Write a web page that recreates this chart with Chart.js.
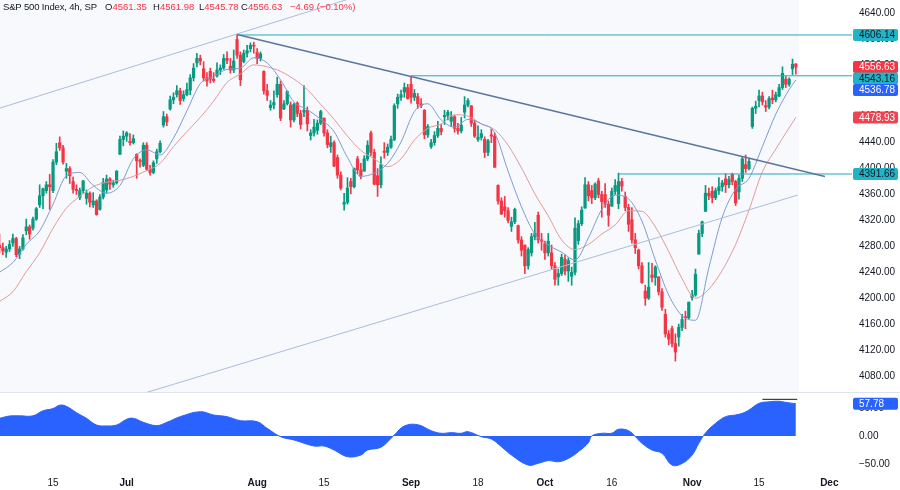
<!DOCTYPE html>
<html>
<head>
<meta charset="utf-8">
<script src="https://cdn.jsdelivr.net/npm/chart.js@4.4.0/dist/chart.umd.min.js"></script>
<style>
  html, body { margin: 0; padding: 0; background: #fff; }
  #wrap { position: relative; width: 900px; height: 490px; overflow: hidden; font-family: 'Liberation Sans', Arial, sans-serif; }
  #main { position: absolute; left: 0; top: 0; }
  #osc { position: absolute; left: 0; top: 392px; }
  #legend { position: absolute; left: 3px; top: 1px; font-size: 9.5px; color: #131722; line-height: 12px; }
  #legend span { position: absolute; top: 0; white-space: nowrap; }
  .v { color: #f23645; font-style: normal; }
</style>
</head>
<body>
<div id="wrap">
  <canvas id="main" width="900" height="392"></canvas>
  <canvas id="osc" width="900" height="98"></canvas>
  <div id="legend">
    <span style="left:0; letter-spacing:-0.15px">S&amp;P 500 Index, 4h, SP</span>
    <span style="left:102px">O<i class="v">4561.35</i></span>
    <span style="left:150px">H<i class="v">4561.98</i></span>
    <span style="left:196px">L<i class="v">4545.78</i></span>
    <span style="left:238px">C<i class="v">4556.63</i></span>
    <span style="left:287px" class="v">&minus;4.69 (&minus;0.10%)</span>
  </div>
</div>
<script>
// 4h bars, [open, high, low, close], two bars per session (Jul 3 is a half day)
const jun = [
  [4282,4299,4270,4278],[4278,4285,4267,4273],
  [4271,4280,4263,4276],[4276,4289,4272,4283],
  [4285,4299,4280,4292],[4292,4294,4264,4267],
  [4268,4280,4261,4276],[4276,4298,4274,4293],
  [4304,4322,4298,4310],[4310,4313,4291,4299],
  [4308,4325,4305,4322],[4322,4340,4320,4338],
  [4344,4375,4340,4358],[4358,4370,4338,4369],
  [4366,4380,4362,4375],[4375,4391,4337,4372],
  [4366,4414,4363,4410],[4410,4439,4406,4426],
  [4440,4449,4428,4432],[4432,4436,4407,4410],
  [4396,4408,4385,4400],[4400,4403,4377,4389],
  [4380,4387,4362,4368],[4368,4375,4360,4366],
  [4355,4370,4352,4366],[4366,4382,4362,4381],
  [4354,4367,4345,4362],[4362,4364,4341,4348],
  [4344,4363,4340,4350],[4350,4352,4328,4329],
  [4337,4360,4336,4356],[4356,4385,4353,4379],
  [4367,4390,4362,4384],[4384,4386,4368,4376],
  [4375,4382,4371,4378],[4378,4397,4376,4396],
  [4422,4450,4422,4445],[4445,4458,4435,4450]
];
const jul = [
  [4450,4457,4442,4455],
  [4442,4454,4436,4440],[4440,4452,4438,4446],
  [4422,4423,4385,4412],[4412,4415,4402,4411],
  [4405,4440,4403,4436],[4436,4440,4397,4399],
  [4399,4405,4390,4394],[4394,4412,4392,4409],
  [4415,4430,4408,4426],[4426,4443,4424,4439],
  [4467,4488,4464,4480],[4480,4484,4466,4472],
  [4492,4512,4490,4506],[4506,4517,4500,4510],
  [4514,4528,4510,4520],[4520,4524,4499,4505],
  [4508,4520,4504,4514],[4514,4532,4512,4522],
  [4521,4545,4514,4540],[4540,4562,4535,4555],
  [4563,4578,4557,4570],[4570,4575,4560,4566],
  [4554,4565,4535,4540],[4540,4548,4527,4535],
  [4550,4555,4532,4538],[4538,4548,4533,4536],
  [4543,4563,4541,4552],[4552,4560,4545,4555],
  [4555,4576,4553,4570],[4570,4580,4562,4567],
  [4558,4570,4547,4552],[4552,4583,4548,4566],
  [4599,4607,4570,4575],[4575,4580,4528,4537],
  [4565,4583,4563,4578],[4578,4590,4572,4582],
  [4585,4594,4580,4590],[4590,4595,4578,4589]
];
const aug = [
  [4579,4585,4562,4570],[4570,4580,4566,4577],
  [4550,4551,4515,4520],[4520,4530,4505,4513],
  [4494,4505,4490,4498],[4498,4520,4492,4502],
  [4514,4541,4510,4530],[4530,4535,4474,4478],
  [4492,4505,4491,4500],[4500,4520,4498,4519],
  [4498,4503,4464,4475],[4475,4501,4472,4499],
  [4501,4503,4480,4485],[4485,4490,4461,4468],
  [4487,4528,4480,4490],[4490,4495,4458,4469],
  [4451,4460,4444,4455],[4455,4476,4450,4464],
  [4459,4475,4453,4470],[4470,4490,4468,4488],
  [4478,4478,4450,4455],[4455,4460,4432,4437],
  [4434,4450,4425,4440],[4440,4443,4403,4404],
  [4417,4421,4385,4390],[4390,4395,4367,4370],
  [4345,4362,4336,4348],[4348,4386,4345,4370],
  [4380,4385,4361,4372],[4372,4401,4370,4400],
  [4415,4419,4392,4398],[4398,4408,4384,4388],
  [4396,4420,4396,4415],[4415,4443,4412,4436],
  [4455,4458,4420,4425],[4425,4430,4375,4376],
  [4389,4400,4357,4375],[4375,4418,4370,4406],
  [4427,4440,4416,4425],[4425,4438,4420,4433],
  [4433,4450,4431,4445],[4445,4500,4443,4497],
  [4500,4515,4493,4510],[4510,4521,4505,4514],
  [4518,4532,4510,4525],[4525,4530,4507,4508]
];
const sep = [
  [4530,4541,4501,4510],[4510,4522,4505,4516],
  [4511,4516,4493,4500],[4500,4508,4494,4497],
  [4490,4491,4446,4452],[4452,4468,4448,4465],
  [4434,4445,4431,4440],[4440,4457,4436,4451],
  [4451,4473,4448,4462],[4462,4468,4452,4457],
  [4480,4490,4468,4482],[4482,4490,4475,4487],
  [4473,4488,4465,4480],[4480,4482,4456,4462],
  [4462,4470,4453,4458],[4458,4479,4455,4467],
  [4487,4511,4478,4498],[4498,4508,4495,4505],
  [4497,4497,4465,4470],[4470,4475,4448,4450],
  [4445,4466,4442,4448],[4448,4460,4444,4454],
  [4445,4449,4417,4425],[4425,4445,4420,4443],
  [4452,4461,4440,4450],[4450,4455,4402,4402],
  [4374,4375,4345,4350],[4350,4355,4329,4330],
  [4341,4357,4325,4335],[4335,4340,4316,4320],
  [4311,4325,4303,4318],[4318,4339,4315,4337],
  [4312,4313,4285,4290],[4290,4295,4265,4274],
  [4282,4282,4238,4250],[4250,4278,4245,4275],
  [4270,4300,4265,4295],[4295,4317,4290,4300],
  [4328,4333,4285,4290],[4290,4300,4274,4288]
];
const oct = [
  [4284,4288,4260,4270],[4270,4300,4265,4288],
  [4270,4282,4245,4250],[4250,4255,4220,4229],
  [4233,4245,4220,4238],[4238,4268,4235,4263],
  [4260,4267,4236,4242],[4242,4262,4226,4258],
  [4234,4248,4220,4240],[4240,4324,4236,4308],
  [4289,4320,4283,4315],[4315,4341,4312,4336],
  [4339,4386,4339,4375],[4375,4380,4350,4358],
  [4366,4374,4346,4355],[4355,4378,4352,4376],
  [4381,4385,4355,4360],[4360,4365,4325,4349],
  [4360,4377,4340,4345],[4345,4350,4311,4328],
  [4342,4370,4342,4365],[4365,4383,4360,4374],
  [4346,4393,4338,4380],[4380,4385,4365,4373],
  [4357,4364,4335,4340],[4340,4345,4303,4314],
  [4321,4340,4285,4290],[4290,4300,4269,4278],
  [4274,4276,4245,4250],[4250,4255,4223,4224],
  [4211,4220,4189,4200],[4200,4255,4198,4217],
  [4236,4254,4225,4232],[4232,4250,4220,4248],
  [4233,4233,4205,4210],[4210,4215,4181,4186],
  [4175,4183,4140,4145],[4145,4150,4128,4137],
  [4153,4157,4125,4130],[4130,4145,4103,4117],
  [4140,4160,4126,4155],[4155,4175,4150,4167],
  [4171,4180,4153,4170],[4170,4194,4168,4194]
];
const nov = [
  [4201,4212,4197,4205],[4205,4245,4203,4237],
  [4268,4305,4268,4300],[4300,4319,4295,4318],
  [4334,4374,4334,4362],[4362,4370,4352,4358],
  [4365,4372,4347,4355],[4355,4370,4352,4366],
  [4366,4386,4360,4372],[4372,4382,4365,4378],
  [4384,4392,4363,4375],[4375,4388,4370,4383],
  [4391,4393,4375,4380],[4380,4382,4343,4347],
  [4364,4390,4353,4385],[4385,4418,4380,4415],
  [4406,4421,4394,4400],[4400,4415,4398,4411],
  [4465,4495,4462,4493],[4493,4504,4485,4496],
  [4505,4521,4495,4512],[4512,4518,4498,4503],
  [4497,4505,4488,4495],[4495,4511,4492,4508],
  [4509,4521,4500,4506],[4506,4518,4503,4514],
  [4512,4530,4511,4525],[4525,4557,4522,4547],
  [4538,4542,4525,4530],[4530,4540,4527,4538],
  [4554,4569,4545,4561],[4561.35,4561.98,4545.78,4556.63]
];

// moving averages at these bar indices
const maIdx = [0,4,8,12,16,20,24,28,32,36,40,44,48,52,56,60,64,68,72,76,80,84,88,92,96,100,104,108,112,116,
  120,124,128,132,136,140,144,148,152,156,160,164,168,172,176,180,184,188,192,196,200,204,208,212,216,220,224,228,232,236,238];
const fastMA = [4240,4255,4283,4304,4345,4389,4394,4374,4362,4374,4415,4429,4421,4447,4489,4531,4542,4553,4555,4571,
  4563,4537,4503,4491,4476,4457,4417,4388,4393,4408,4441,4488,4500,4475,4464,4476,4469,4455,4396,4341,
  4299,4282,4271,4259,4293,4337,4359,4353,4319,4259,4205,4173,4166,4247,4325,4368,4385,4434,4484,4522,4536.78];
const slowMA = [4195,4210,4241,4270,4308,4339,4357,4372,4379,4382,4388,4397,4408,4434,4457,4479,4504,4533,4546,4560,
  4557,4550,4538,4522,4499,4476,4450,4428,4415,4403,4415,4444,4462,4469,4483,4481,4469,4460,4436,4401,
  4361,4327,4290,4275,4283,4299,4313,4335,4334,4310,4272,4230,4200,4214,4243,4283,4336,4395,4430,4463,4478.93];

// oscillator pane
const oscIdx = [0,3,6,10,13,16,18,20,23,26,29,32,35,38,40,43,47,50,54,60,64,68,72,77,80,84,88,94,97,100,
  104,108,110,114,118,121,125,129,132,135,138,140,144,147,150,153,158,161,164,167,170,173,176,177,180,183,185,188,190,192,
  195,198,201,204,207,209,211,214,217,220,222,224,227,230,233,235,238];
const oscVal = [31.6,35.7,36,36,45,49,55,53,41.7,31.6,19.6,18,19.6,29.8,31.6,24.4,18.5,24.4,34.5,43.4,
  37.5,34.5,27.4,25.6,13.7,-1.2,-7,-17.9,-17.9,-25,-37,-34,-25,-20,1.8,17.9,20.2,9.5,4.8,6,
  4.8,7.7,-1.2,-5.4,-19,-34,-52,-48.8,-44,-46,-40,-28,-12,0,4.8,5,12,9.5,-1,-13,
  -25,-31,-52,-49,-34,-13,5.4,22.6,34.5,37.5,40.5,46.4,58.3,61,62,60,57.78];
const oscMarkX = [228, 238.4];
const oscMarkY = [65.5, 65.5];

// drawings
const channelUpperX = [-10, 120];
const channelUpperY = [4477.0, 4686.8];
const channelLowerX = [40, 238.6];
const channelLowerY = [4048.4, 4359.2];
const downTrendX = [71, 246.7];
const downTrendY = [4607, 4387.8];
const levels = [4606.14, 4543.16, 4391.66];
const levelStart = [71, 123, 185];

// right-axis labels
const labelValues = [4606.14, 4556.63, 4543.16, 4536.78, 4478.93, 4391.66];
const labelKinds = ['level', 'last', 'level', 'fast', 'slow', 'level'];
const oscLabel = 57.78;

const priceTicks = [4080,4120,4160,4200,4240,4280,4320,4360,4400,4440,4480,4520,4560,4600,4640];
const oscTicks = [50, 0, -50];
const dateTickIdx = [16, 38, 77, 97, 123, 143, 163, 183, 207, 227, 248];
const dateTickText = ['15', 'Jul', 'Aug', '15', 'Sep', '18', 'Oct', '16', 'Nov', '15', 'Dec'];
const months = ['Jul', 'Aug', 'Sep', 'Oct', 'Nov', 'Dec'];

const fam = "'Liberation Sans', Arial, sans-serif";
Chart.defaults.font.family = fam;
Chart.defaults.font.size = 10;
Chart.defaults.color = '#131722';

const UP = '#089981', DOWN = '#f23645';
const labelStyle = {
  level: { bg: '#22b3c6', fg: '#131722' },
  last:  { bg: '#f23645', fg: '#ffffff' },
  fast:  { bg: '#2962ff', fg: '#ffffff' },
  slow:  { bg: '#f0434f', fg: '#ffffff' }
};
const xMin = 0.1494, xMax = 254.78;

const bars = [...jun, ...jul, ...aug, ...sep, ...oct, ...nov];
const barColors = bars.map(b => b[3] >= b[0] ? UP : DOWN);
const pts = (xs, ys) => xs.map((x, i) => ({ x: x, y: ys[i] }));

function line(data, color, width, extra) {
  return Object.assign({ type: 'line', data: data, borderColor: color, borderWidth: width,
    pointRadius: 0, fill: false, order: 0 }, extra || {});
}

function box(ctx, x, cy, w, h, bg) {
  ctx.fillStyle = bg;
  ctx.beginPath();
  ctx.roundRect(x, cy - h / 2, w, h, 2);
  ctx.fill();
}

const mainDecor = {
  id: 'mainDecor',
  beforeDraw(c) {
    const { ctx, chartArea: a, scales } = c;
    ctx.save();
    ctx.fillStyle = '#fff';
    ctx.fillRect(0, 0, c.width, c.height);
    ctx.fillStyle = '#f8f9fd';
    ctx.fillRect(a.left, a.top, scales.x.getPixelForValue(238.9) - a.left, a.bottom - a.top);
    ctx.restore();
  },
  afterDraw(c) {
    const { ctx, chartArea: a, scales } = c;
    const items = labelValues.map((v, i) => ({ v: v, kind: labelKinds[i], py: scales.y.getPixelForValue(v) }))
      .sort((p, q) => p.py - q.py);
    let prev = -1e9;
    ctx.save();
    ctx.font = '10px ' + fam;
    ctx.textBaseline = 'middle';
    ctx.textAlign = 'left';
    items.forEach(it => {
      const cy = Math.max(it.py, prev + 11.5);
      prev = cy;
      const st = labelStyle[it.kind];
      box(ctx, a.right + 1, cy, 45, 12, st.bg);
      ctx.fillStyle = st.fg;
      ctx.fillText(it.v.toFixed(2), a.right + 7, cy + 0.5);
    });
    ctx.restore();
  }
};

const oscDecor = {
  id: 'oscDecor',
  beforeDraw(c) {
    const ctx = c.ctx;
    ctx.save();
    ctx.fillStyle = '#fff';
    ctx.fillRect(0, 0, c.width, c.height);
    ctx.strokeStyle = '#e0e3eb';
    ctx.lineWidth = 1;
    ctx.beginPath();
    ctx.moveTo(0, 0.5);
    ctx.lineTo(c.width, 0.5);
    ctx.stroke();
    ctx.restore();
  },
  afterDraw(c) {
    const { ctx, chartArea: a, scales } = c;
    const cy = scales.y.getPixelForValue(oscLabel);
    ctx.save();
    ctx.font = '10px ' + fam;
    ctx.textBaseline = 'middle';
    box(ctx, a.right + 1, cy, 45, 12, '#2962ff');
    ctx.fillStyle = '#fff';
    ctx.fillText(oscLabel.toFixed(2), a.right + 7, cy + 0.5);
    ctx.restore();
  }
};

const rightAxis = (min, max, ticks, fmt) => ({
  position: 'right', min: min, max: max,
  grid: { display: false, drawTicks: false }, border: { display: false },
  afterFit: s => { s.width = 48; s.paddingTop = 0; s.paddingBottom = 0; },
  afterBuildTicks: s => { s.ticks = ticks.map(v => ({ value: v })); },
  ticks: { padding: 7, autoSkip: false, color: '#131722', font: { size: 10 }, callback: fmt }
});

new Chart(document.getElementById('main'), {
  type: 'bar',
  data: {
    datasets: [
      line(pts(channelUpperX, channelUpperY), '#a9bddc', 1),
      line(pts(channelLowerX, channelLowerY), '#a9bddc', 1),
      line(pts(downTrendX, downTrendY), '#5a76a0', 1.5),
      ...levels.map((v, i) => line(pts([levelStart[i], xMax], [v, v]), '#22aabd', 1)),
      line(pts(maIdx, fastMA), '#7d9bd8', 1, { cubicInterpolationMode: 'monotone', order: 0 }),
      line(pts(maIdx, slowMA), '#e39a9a', 1, { cubicInterpolationMode: 'monotone', order: 0 }),
      {
        type: 'bar', order: 1, grouped: false, barThickness: 2.6, minBarLength: 1,
        data: bars.map((b, i) => ({ x: i, y: [b[0], b[3]] })),
        backgroundColor: barColors, borderWidth: 0
      },
      {
        type: 'bar', order: 2, grouped: false, barThickness: 1,
        data: bars.map((b, i) => ({ x: i, y: [b[2], b[1]] })),
        backgroundColor: barColors, borderWidth: 0
      }
    ]
  },
  options: {
    responsive: false, animation: false, events: [],
    layout: { padding: 0 },
    plugins: { legend: { display: false }, tooltip: { enabled: false } },
    scales: {
      x: { type: 'linear', min: xMin, max: xMax, offset: false, display: false },
      y: rightAxis(4055.3, 4660.1, priceTicks, v => v.toFixed(2))
    }
  },
  plugins: [mainDecor]
});

new Chart(document.getElementById('osc'), {
  type: 'line',
  data: {
    datasets: [
      {
        data: pts(oscIdx, oscVal), borderColor: '#2962ff', backgroundColor: '#2962ff',
        borderWidth: 1, pointRadius: 0, fill: 'origin', tension: 0.4
      },
      { data: pts(oscMarkX, oscMarkY), borderColor: '#131722', borderWidth: 1, pointRadius: 0, fill: false }
    ]
  },
  options: {
    responsive: false, animation: false, events: [],
    layout: { padding: 0 },
    plugins: { legend: { display: false }, tooltip: { enabled: false } },
    scales: {
      x: {
        type: 'linear', min: xMin, max: xMax, offset: false,
        grid: { display: false, drawTicks: false }, border: { display: false },
        afterFit: s => { s.height = 18; s.paddingLeft = 0; s.paddingRight = 0; },
        afterBuildTicks: s => { s.ticks = dateTickIdx.map(v => ({ value: v })); },
        ticks: {
          padding: 5, autoSkip: false, maxRotation: 0, color: '#131722',
          font: ctx => ({ size: 10, weight: months.includes(dateTickText[ctx.index]) ? 'bold' : 'normal' }),
          callback: (v, i) => dateTickText[i]
        }
      },
      y: rightAxis(-64.29, 78.57, oscTicks, v => (v < 0 ? '\u2212' + Math.abs(v).toFixed(2) : v.toFixed(2)))
    }
  },
  plugins: [oscDecor]
});
</script>
</body>
</html>
